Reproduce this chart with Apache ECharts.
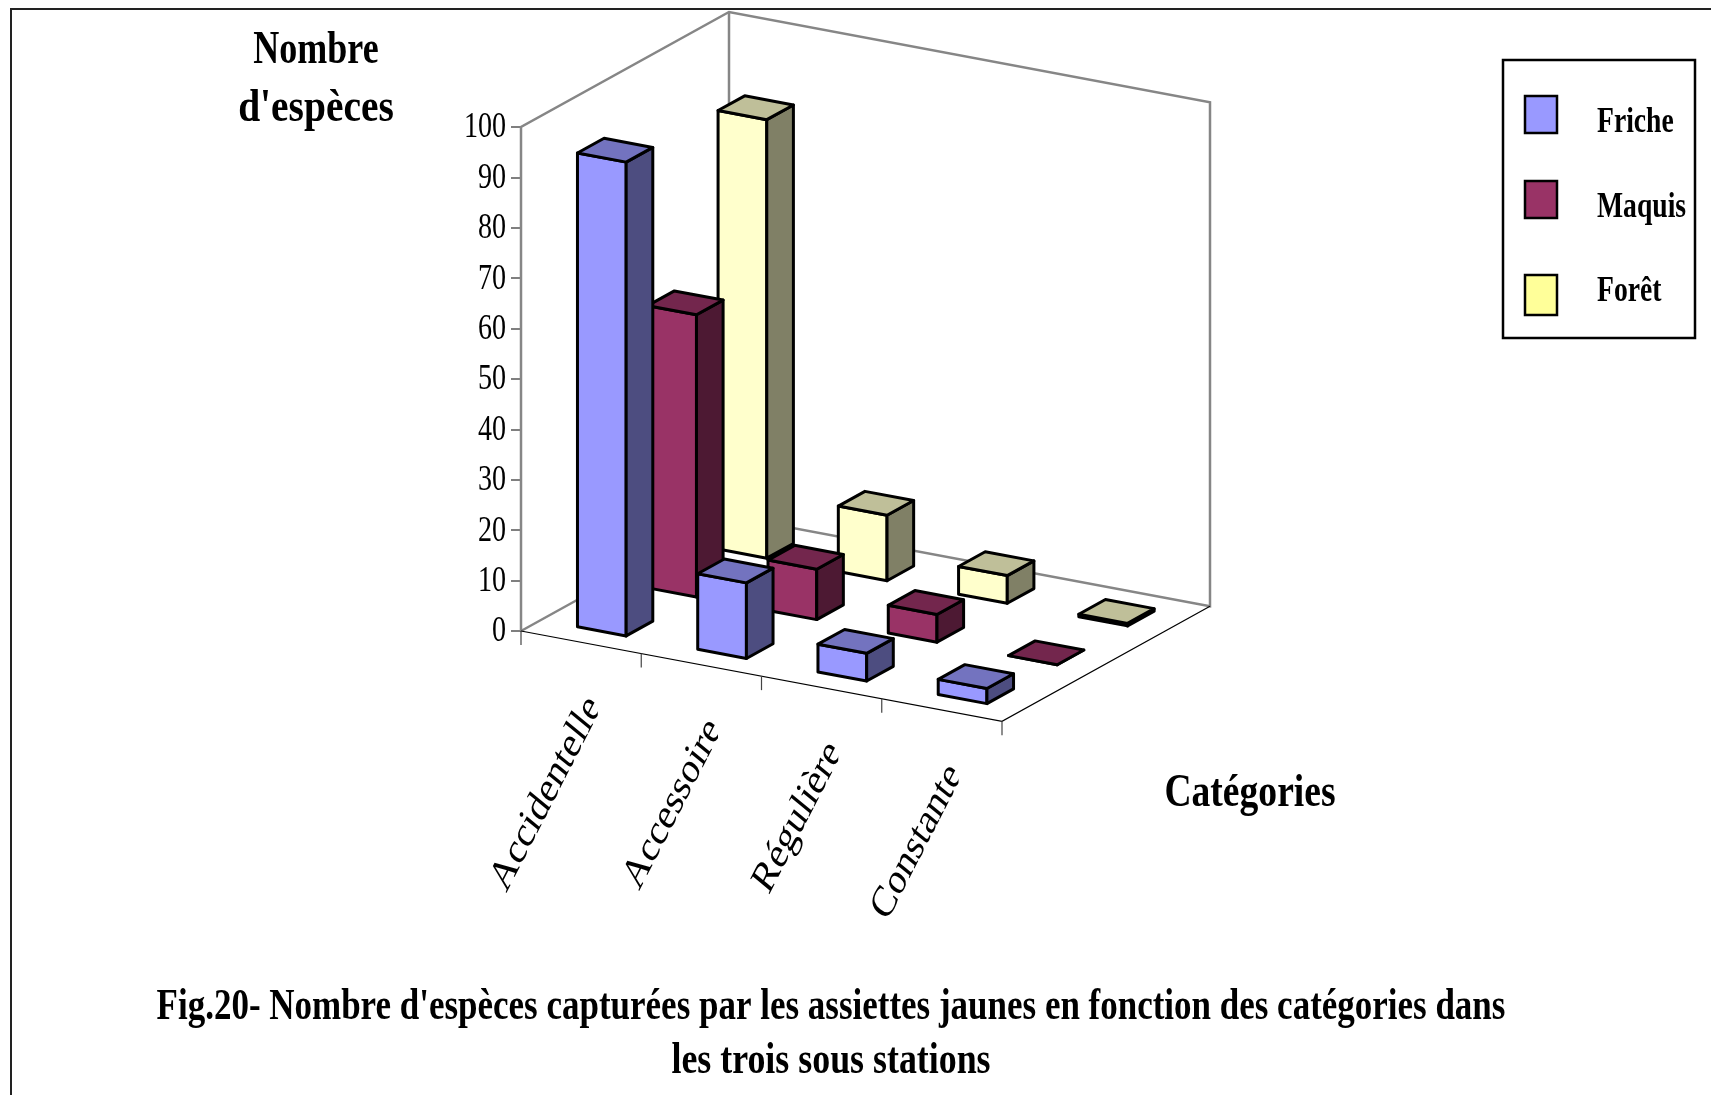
<!DOCTYPE html>
<html>
<head>
<meta charset="utf-8">
<title>Fig.20</title>
<style>
    html, body { margin: 0; padding: 0; background: #fff; }
    #chart { width: 1711px; height: 1095px; }
</style>
<script src="https://cdn.jsdelivr.net/npm/echarts@6/dist/echarts.min.js"></script>
</head>
<body>
<div id="chart"></div>
<script>
const categories = ['Accidentelle', 'Accessoire', 'Régulière', 'Constante'];
const friche = [94, 15, 5.5, 3];
const maquis = [56, 10, 5.5, 0];
const foret = [87, 13, 5.5, 0.5];
const yTicks = [0, 10, 20, 30, 40, 50, 60, 70, 80, 90, 100];

const SERIF = '"Liberation Serif"';

// Oblique projection of the 3D box: depth vector and slope of the floor's front edge.
const DEPTH_X = 208;
const DEPTH_Y = 115;
const FLOOR_SLOPE = 0.1877;
const BAR_LEFT = 0.303;     // share of a category band
const BAR_WIDTH = 0.405;
const BAR_DEPTH = 0.128;    // share of the whole depth
const ROW_DEPTH = 0.338;
const FIRST_ROW = 0.0963;

function project(api, index, offset, depth, value) {
    const band = api.size([1, 0])[0];
    const left = api.coord([0, 0])[0] - band / 2;
    const c = api.coord([index, value]);
    const x = c[0] + (offset - 0.5) * band;
    return [x + depth * DEPTH_X, c[1] + (x - left) * FLOOR_SLOPE - depth * DEPTH_Y];
}

function renderWalls(params, api) {
    const p = function (i, d, v) { return project(api, i, 0, d, v); };
    const frontLeft = p(0, 0, 0), backLeft = p(0, 1, 0), topFront = p(0, 0, 100), topBack = p(0, 1, 100);
    const frontRight = p(4, 0, 0), backRight = p(4, 1, 0), topRight = p(4, 1, 100);
    const grey = {stroke: '#868686', lineWidth: 2.5, fill: null};
    const children = [
        {type: 'polyline', shape: {points: [frontLeft, topFront, topBack, topRight, backRight, backLeft, frontLeft]}, style: grey},
        {type: 'line', shape: {x1: backLeft[0], y1: backLeft[1], x2: topBack[0], y2: topBack[1]}, style: grey},
        {type: 'polyline', shape: {points: [frontLeft, frontRight, backRight]}, style: {stroke: '#000', lineWidth: 1.2, fill: null}}
    ];
    for (let i = 0; i <= 4; i++) {
        const t = p(i, 0, 0);
        children.push({
            type: 'line',
            shape: {x1: t[0], y1: t[1], x2: t[0], y2: t[1] + 14},
            style: {stroke: '#444', lineWidth: 1.2}
        });
    }
    return {type: 'group', children: children};
}

function barRenderer(row, front, top, side) {
    return function (params, api) {
        const i = api.value(0);
        const v = api.value(1);
        const d0 = FIRST_ROW + row * ROW_DEPTH;
        const d1 = d0 + BAR_DEPTH;
        const a = BAR_LEFT, b = BAR_LEFT + BAR_WIDTH;
        const edge = {stroke: '#000', lineWidth: 3, lineJoin: 'round'};
        const face = function (points, fill) {
            return {type: 'polygon', shape: {points: points}, style: Object.assign({fill: fill}, edge)};
        };
        return {
            type: 'group',
            children: [
                face([project(api, i, a, d0, 0), project(api, i, b, d0, 0), project(api, i, b, d0, v), project(api, i, a, d0, v)], front),
                face([project(api, i, b, d0, 0), project(api, i, b, d1, 0), project(api, i, b, d1, v), project(api, i, b, d0, v)], side),
                face([project(api, i, a, d0, v), project(api, i, b, d0, v), project(api, i, b, d1, v), project(api, i, a, d1, v)], top)
            ]
        };
    };
}

function renderYLabel(params, api) {
    const c = api.coord([0, api.value(0)]);
    const band = api.size([1, 0])[0];
    return {
        type: 'text',
        x: c[0] - band / 2 - 15,
        y: c[1] + 1,
        scaleX: 0.78,
        style: {
            text: String(api.value(0)),
            font: '36px ' + SERIF,
            fill: '#000',
            align: 'right', textAlign: 'right',
            verticalAlign: 'middle', textVerticalAlign: 'middle'
        }
    };
}

function renderXLabel(params, api) {
    const i = api.value(0);
    const tick = project(api, i, 1, 0, 0);
    return {
        type: 'group',
        clipPath: {type: 'rect', shape: {x: 0, y: 0, width: tick[0] - 43.5, height: 1095}},
        children: [{
            type: 'group',
            x: tick[0] - 47,
            y: tick[1] + 47,
            scaleX: 0.79,
            children: [{
                type: 'text',
                rotation: 57 * Math.PI / 180,
                style: {
                    text: categories[i],
                    font: '44px ' + SERIF,
                    fill: '#000',
                    align: 'right', textAlign: 'right',
                    verticalAlign: 'middle', textVerticalAlign: 'middle'
                }
            }]
        }]
    };
}

function textEl(text, x, y, size, scaleX, align) {
    return {
        type: 'text',
        x: x,
        y: y,
        scaleX: scaleX,
        style: {
            text: text,
            font: 'bold ' + size + 'px ' + SERIF,
            fill: '#000',
            align: align, textAlign: align,
            verticalAlign: 'middle', textVerticalAlign: 'middle'
        }
    };
}

function legendSwatch(y, h, color) {
    return {
        type: 'rect',
        shape: {x: 1525, y: y, width: 32, height: h},
        style: {fill: color, stroke: '#000', lineWidth: 2.5}
    };
}

const chart = echarts.init(document.getElementById('chart'), null, {renderer: 'canvas'});

chart.setOption({
    backgroundColor: '#fff',
    animation: false,
    grid: {left: 521, top: 127, width: 481, height: 504},
    xAxis: {
        type: 'category',
        data: categories,
        show: false
    },
    yAxis: {
        type: 'value',
        min: 0,
        max: 100,
        interval: 10,
        splitLine: {show: false},
        axisLine: {show: true, lineStyle: {color: '#555', width: 2}},
        axisTick: {show: true, length: 10, lineStyle: {color: '#555', width: 1.5}},
        axisLabel: {show: false}
    },
    series: [
        {type: 'custom', name: 'walls', renderItem: renderWalls, data: [[0, 0]], encode: {x: 0, y: 1}, silent: true},
        {type: 'custom', name: 'Forêt', renderItem: barRenderer(2, '#FFFFCC', '#BFBF99', '#808066'), data: foret.map((v, i) => [i, v]), encode: {x: 0, y: 1}},
        {type: 'custom', name: 'Maquis', renderItem: barRenderer(1, '#993366', '#73264D', '#4D1933'), data: maquis.map((v, i) => [i, v]), encode: {x: 0, y: 1}},
        {type: 'custom', name: 'Friche', renderItem: barRenderer(0, '#9999FF', '#7373BF', '#4D4D80'), data: friche.map((v, i) => [i, v]), encode: {x: 0, y: 1}},
        {type: 'custom', name: 'yLabels', renderItem: renderYLabel, data: yTicks.map(v => [v]), encode: {y: 0}, silent: true},
        {type: 'custom', name: 'xLabels', renderItem: renderXLabel, data: categories.map((c, i) => [i]), encode: {x: 0}, silent: true}
    ],
    graphic: {
        elements: [
            // page frame, only its top and left sides are in the picture
            {type: 'polyline', shape: {points: [[11, 1095], [11, 9], [1711, 9]]}, style: {stroke: '#222', lineWidth: 2, fill: null}},

            textEl('Nombre', 316, 51, 47, 0.766, 'center'),
            textEl("d'espèces", 316, 109, 47, 0.84, 'center'),
            textEl('Catégories', 1250, 794, 47, 0.8, 'center'),

            {type: 'rect', shape: {x: 1503, y: 60, width: 192, height: 278}, style: {fill: '#fff', stroke: '#000', lineWidth: 2.5}},
            legendSwatch(96, 37, '#9999FF'),
            legendSwatch(181, 37, '#993366'),
            legendSwatch(275, 40, '#FFFF99'),
            textEl('Friche', 1597, 123, 35, 0.79, 'left'),
            textEl('Maquis', 1597, 208, 35, 0.79, 'left'),
            textEl('Forêt', 1597, 292, 35, 0.79, 'left'),

            textEl("Fig.20- Nombre d'espèces capturées par les assiettes jaunes en fonction des catégories dans", 831, 1008, 44, 0.795, 'center'),
            textEl('les trois sous stations', 831, 1062, 44, 0.815, 'center')
        ]
    }
});

window.addEventListener('resize', function () {
    chart.resize();
});
</script>
</body>
</html>
